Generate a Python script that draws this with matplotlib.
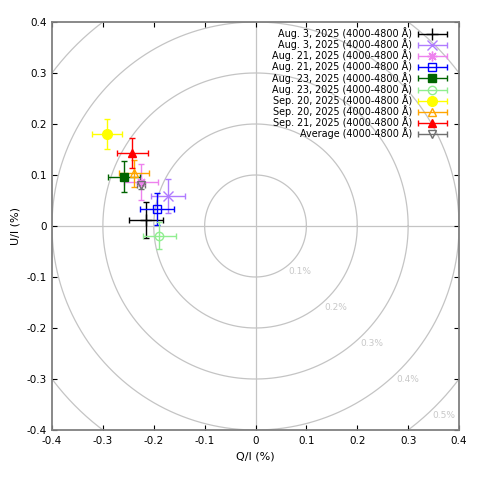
import numpy as np
import matplotlib
matplotlib.use("Agg")
import matplotlib.pyplot as plt
from matplotlib.container import ErrorbarContainer
from matplotlib.legend_handler import HandlerErrorbar
from matplotlib.ticker import FormatStrFormatter, MultipleLocator

# polarimetry values (percent)
labels = ["Aug. 3, 2025 (4000-4800 Å)", "Aug. 3, 2025 (4000-4800 Å)",
          "Aug. 21, 2025 (4000-4800 Å)", "Aug. 21, 2025 (4000-4800 Å)",
          "Aug. 23, 2025 (4000-4800 Å)", "Aug. 23, 2025 (4000-4800 Å)",
          "Sep. 20, 2025 (4000-4800 Å)", "Sep. 20, 2025 (4000-4800 Å)",
          "Sep. 21, 2025 (4000-4800 Å)", "Average (4000-4800 Å)"]
q = [-0.215, -0.172, -0.225, -0.194, -0.259, -0.189, -0.292, -0.239, -0.242, -0.225]
u = [0.012, 0.059, 0.086, 0.033, 0.097, -0.019, 0.180, 0.103, 0.143, 0.080]
q_err = [0.033, 0.034, 0.033, 0.034, 0.031, 0.032, 0.030, 0.029, 0.031, 0.008]
u_err = [0.035, 0.034, 0.035, 0.032, 0.031, 0.027, 0.029, 0.027, 0.030, 0.008]

colors = ["black", "#b07cff", "#ee82ee", "blue", "#006400", "#90ee90",
          "#ffff00", "#ffa500", "red", "#707070"]
markers = ["+", "x", (8, 2, 0), "s", "s", "o", "o", "^", "^", "v"]
filled = [True, True, True, False, True, False, True, False, True, False]
msizes = [8, 7, 7, 6, 6, 6, 7, 6, 6, 6]

# circles of constant polarisation degree
radii = [0.1, 0.2, 0.3, 0.4, 0.5]
radius_labels = ["0.1%", "0.2%", "0.3%", "0.4%", "0.5%"]

fig = plt.figure(figsize=(4.78, 4.78), dpi=100)
ax = fig.add_axes([0.1088, 0.1004, 0.8515, 0.8536])

# guide circles and zero lines
theta = np.linspace(0, 2 * np.pi, 400)
for r, lab in zip(radii, radius_labels):
    ax.plot(r * np.cos(theta), r * np.sin(theta), color="#c4c4c4", lw=0.9, zorder=1)
    d = r / np.sqrt(2)
    ax.text(d + 0.016, -d - 0.018, lab, color="#c8c8c8", fontsize=6.5,
            ha="center", va="center", zorder=1)
ax.axhline(0, color="#c4c4c4", lw=0.9, zorder=1)
ax.axvline(0, color="#c4c4c4", lw=0.9, zorder=1)

containers = []
for i in range(len(q)):
    face = colors[i] if filled[i] else "none"
    c = ax.errorbar(q[i], u[i], xerr=q_err[i], yerr=u_err[i], fmt="none",
                    ecolor=colors[i], elinewidth=1.0, capsize=2.2, capthick=1.0,
                    label=labels[i], zorder=3)
    # marker drawn on top of the bars
    ax.plot(q[i], u[i], linestyle="none", marker=markers[i], color=colors[i],
            markerfacecolor=face, markeredgecolor=colors[i], markersize=msizes[i],
            markeredgewidth=1.0, zorder=4)
    containers.append(c)

# gnuplot style key: horizontal bar with caps and the point in the middle
proxies = []
for i, c in enumerate(containers):
    face = colors[i] if filled[i] else "none"
    line = matplotlib.lines.Line2D([], [], linestyle="none", marker=markers[i],
                                   color=colors[i], markerfacecolor=face,
                                   markeredgecolor=colors[i], markersize=msizes[i],
                                   markeredgewidth=1.0)
    pc = ErrorbarContainer((line, c.lines[1], c.lines[2]), has_xerr=True, has_yerr=False,
                           label=labels[i])
    proxies.append(pc)

leg = ax.legend(handles=proxies, labels=labels, loc="upper right",
                bbox_to_anchor=(0.976, 0.992), frameon=False, fontsize=6.9,
                markerfirst=False, handlelength=3.1, handleheight=0.6,
                handletextpad=0.6, labelspacing=-0.08, borderpad=0.2,
                borderaxespad=0.0,
                handler_map={ErrorbarContainer: HandlerErrorbar(xerr_size=1.5)})

ax.set_xlim(-0.4, 0.4)
ax.set_ylim(-0.4, 0.4)
ax.xaxis.set_major_locator(MultipleLocator(0.1))
ax.yaxis.set_major_locator(MultipleLocator(0.1))
ax.xaxis.set_major_formatter(FormatStrFormatter("%g"))
ax.yaxis.set_major_formatter(FormatStrFormatter("%g"))
ax.tick_params(direction="in", top=True, right=True, length=3.5, width=0.8,
               labelsize=7.5, colors="black", pad=4)
for s in ax.spines.values():
    s.set_color("#808080")
    s.set_linewidth(1.3)

ax.set_xlabel("Q/I (%)", fontsize=8)
ax.set_ylabel("U/I (%)", fontsize=8)

fig.savefig("out.png", dpi=100)
